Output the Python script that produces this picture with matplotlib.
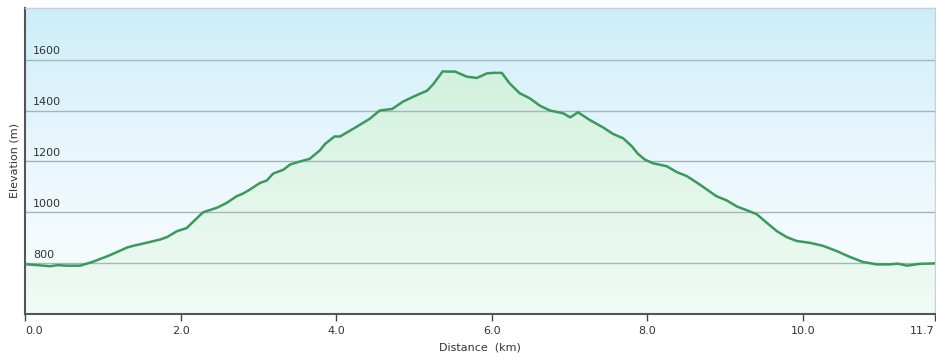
import numpy as np
import matplotlib
matplotlib.use("Agg")
import matplotlib.pyplot as plt
from matplotlib.colors import LinearSegmentedColormap
from matplotlib.patches import PathPatch

# Data
distance_km = [0.00, 0.32, 0.42, 0.54, 0.71, 0.87, 1.09, 1.31, 1.39, 1.52, 1.74, 1.83, 1.95,
               2.08, 2.16, 2.29, 2.47, 2.60, 2.72, 2.80, 2.89, 3.02, 3.11, 3.19, 3.32, 3.41,
               3.53, 3.66, 3.79, 3.86, 3.98, 4.05, 4.22, 4.43, 4.56, 4.72, 4.86, 5.04, 5.17,
               5.25, 5.37, 5.43, 5.53, 5.68, 5.81, 5.94, 6.02, 6.13, 6.23, 6.36, 6.49, 6.62,
               6.75, 6.92, 7.01, 7.11, 7.26, 7.43, 7.56, 7.69, 7.80, 7.88, 7.97, 8.07, 8.25,
               8.38, 8.51, 8.68, 8.89, 9.02, 9.15, 9.28, 9.41, 9.54, 9.67, 9.79, 9.92, 10.09,
               10.26, 10.44, 10.60, 10.77, 10.95, 11.12, 11.22, 11.34, 11.50, 11.70]
elevation_m = [796, 788, 792, 790, 790, 805, 831, 861, 868, 877, 893, 903, 925,
               938, 962, 1000, 1018, 1038, 1063, 1073, 1089, 1115, 1125, 1152, 1167, 1188,
               1199, 1210, 1243, 1269, 1298, 1298, 1328, 1367, 1400, 1406, 1435, 1461, 1478,
               1504, 1554, 1553, 1553, 1533, 1528, 1546, 1548, 1548, 1507, 1468, 1448, 1419,
               1400, 1389, 1373, 1393, 1363, 1334, 1308, 1291, 1260, 1230, 1207, 1193, 1181,
               1158, 1142, 1108, 1063, 1047, 1023, 1008, 992, 958, 925, 903, 887, 880,
               868, 847, 825, 805, 795, 795, 798, 790, 797, 799]
y_ticks = [800, 1000, 1200, 1400, 1600]
x_ticks = [0.0, 2.0, 4.0, 6.0, 8.0, 10.0, 11.7]
x_tick_labels = ["0.0", "2.0", "4.0", "6.0", "8.0", "10.0", "11.7"]

W, H = 937, 358
fig = plt.figure(figsize=(W / 100, H / 100), dpi=100)
fig.patch.set_facecolor("white")
ax = fig.add_axes([25 / W, (H - 314) / H, 910 / W, (314 - 7.5) / H])

xmin, xmax = 0.0, 11.7
ymin, ymax = 600, 1805
ax.set_xlim(xmin, xmax)
ax.set_ylim(ymin, ymax)

# Sky gradient background
sky = LinearSegmentedColormap.from_list("sky", ["#fbfeff", "#eaf7fc", "#cdeef9"])
grad = np.linspace(0, 1, 256).reshape(-1, 1)
ax.imshow(grad, aspect="auto", cmap=sky, origin="lower",
          extent=[xmin, xmax, ymin, ymax], zorder=0)

# Green gradient fill below the profile
greens = LinearSegmentedColormap.from_list("gr", ["#f0fbf4", "#e2f6ea", "#d2f1df"])
im = ax.imshow(grad, aspect="auto", cmap=greens, origin="lower",
               extent=[xmin, xmax, ymin, 1560], zorder=1)
poly = ax.fill_between(distance_km, elevation_m, ymin, color="none", lw=0)
clip = poly.get_paths()[0]
pp = PathPatch(clip, transform=ax.transData, facecolor="none", edgecolor="none")
ax.add_patch(pp)
im.set_clip_path(pp)

# Grid lines with inside labels
for yt in y_ticks:
    ax.axhline(yt, color="#a3b6bd", lw=1.0, zorder=2)
    ax.text(0.1, yt + 14, str(yt), fontsize=8, color="#333333",
            ha="left", va="bottom", zorder=4)

ax.plot(distance_km, elevation_m, color="#3a9a5c", lw=1.8, zorder=3,
        solid_joinstyle="round")

ax.set_yticks([])
ax.set_xticks(x_ticks)
ax.set_xticklabels(x_tick_labels, fontsize=8, color="#333333")
ax.tick_params(axis="x", length=5, width=1, color="#444444", pad=4, direction="out")
xtl = ax.get_xticklabels()
xtl[0].set_horizontalalignment("left")
xtl[-1].set_horizontalalignment("right")

ax.spines["left"].set_color("#555555")
ax.spines["left"].set_linewidth(1.5)
ax.spines["bottom"].set_color("#555555")
ax.spines["bottom"].set_linewidth(1.5)
ax.spines["top"].set_color("#c8d0d4")
ax.spines["top"].set_linewidth(1)
ax.spines["right"].set_color("#c8d0d4")
ax.spines["right"].set_linewidth(1)

ax.set_xlabel("Distance  (km)", fontsize=8, color="#333333", labelpad=4)
ax.set_ylabel("Elevation (m)", fontsize=8, color="#333333", labelpad=4)

fig.savefig("out.png", dpi=100)
